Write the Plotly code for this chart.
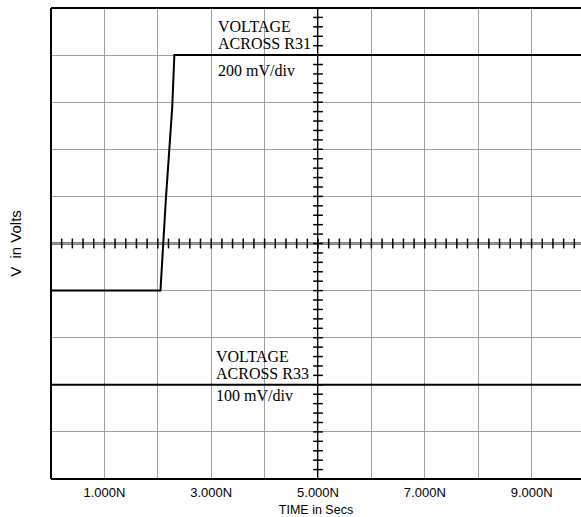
import plotly.graph_objects as go
import numpy as np

# time in ns, voltage in divisions
t_r31 = [0, 2.05, 2.15, 2.27, 2.31, 10]
v_r31 = [-1, -1, 0.92, 2.89, 4.0, 4.0]
t_r33 = [0, 10]
v_r33 = [-3, -3]
x_ticks = [1, 3, 5, 7, 9]
x_tick_labels = ["1.000N", "3.000N", "5.000N", "7.000N", "9.000N"]

XMAX = 9.925
fig = go.Figure()

# center graticule minor ticks
hx = np.arange(0, 10.01, 0.2)
fig.add_trace(go.Scatter(x=hx, y=[0]*len(hx), mode="markers",
    marker=dict(symbol="line-ns", size=7, line=dict(color="black", width=1.5)),
    hoverinfo="skip", showlegend=False, cliponaxis=True))
vy = np.arange(-5, 5.01, 0.2)
fig.add_trace(go.Scatter(x=[5]*len(vy), y=vy, mode="markers",
    marker=dict(symbol="line-ew", size=7, line=dict(color="black", width=1.5)),
    hoverinfo="skip", showlegend=False, cliponaxis=True))

fig.add_trace(go.Scatter(x=t_r31, y=v_r31, mode="lines",
    line=dict(color="black", width=2), showlegend=False))
fig.add_trace(go.Scatter(x=t_r33, y=v_r33, mode="lines",
    line=dict(color="black", width=2), showlegend=False))

# center lines
fig.add_shape(type="line", xref="x", yref="y", x0=0, x1=10, y0=0, y1=0,
              line=dict(color="black", width=2), layer="below")
fig.add_shape(type="line", xref="x", yref="y", x0=5, x1=5, y0=-5, y1=5,
              line=dict(color="black", width=2), layer="below")
# borders (left, top, bottom)
fig.add_shape(type="line", xref="paper", yref="paper", x0=0, x1=0, y0=0, y1=1,
              line=dict(color="black", width=2))
fig.add_shape(type="line", xref="paper", yref="paper", x0=0, x1=1, y0=1, y1=1,
              line=dict(color="black", width=2))
fig.add_shape(type="line", xref="paper", yref="paper", x0=0, x1=1, y0=0, y1=0,
              line=dict(color="black", width=2))

serif = "Liberation Serif, Times New Roman, serif"
def txt(x, y, s):
    fig.add_annotation(x=x, y=y, xref="x", yref="y", text=s, showarrow=False,
                       xanchor="left", yanchor="middle", xshift=-1,
                       font=dict(family=serif, size=16, color="black"))

txt(3.1, 4.6, "VOLTAGE")
txt(3.1, 4.25, "ACROSS R31")
txt(3.1, 3.68, "200 mV/div")
txt(3.08, -2.4, "VOLTAGE")
txt(3.08, -2.77, "ACROSS R33")
txt(3.08, -3.22, "100 mV/div")

all_ticks = list(range(0, 11))
labels = [x_tick_labels[x_ticks.index(v)] if v in x_ticks else "" for v in all_ticks]

fig.update_layout(
    width=581, height=517,
    margin=dict(l=51, r=0, t=8, b=38),
    plot_bgcolor="white", paper_bgcolor="white",
    font=dict(family="Liberation Sans, Arial, sans-serif", size=12, color="black"),
    xaxis=dict(range=[0, XMAX], tickvals=all_ticks, ticktext=labels,
               showgrid=True, gridcolor="#a0a0a0", gridwidth=1, zeroline=False,
               showline=False, ticks="outside", ticklen=1, tickcolor="rgba(0,0,0,0)",
               tickfont=dict(size=13), automargin=False,
               title=dict(text="TIME in Secs", font=dict(size=12.5), standoff=10)),
    yaxis=dict(range=[-5, 5], tickvals=list(range(-5, 6)), showticklabels=False,
               showgrid=True, gridcolor="#a0a0a0", gridwidth=1, zeroline=False,
               showline=False, ticks="", automargin=False,
               title=dict(text="V  in Volts", font=dict(size=15), standoff=24)),
)

fig.write_html("out.html", config={"displayModeBar": False},
               post_script="document.body.style.margin='0';")
